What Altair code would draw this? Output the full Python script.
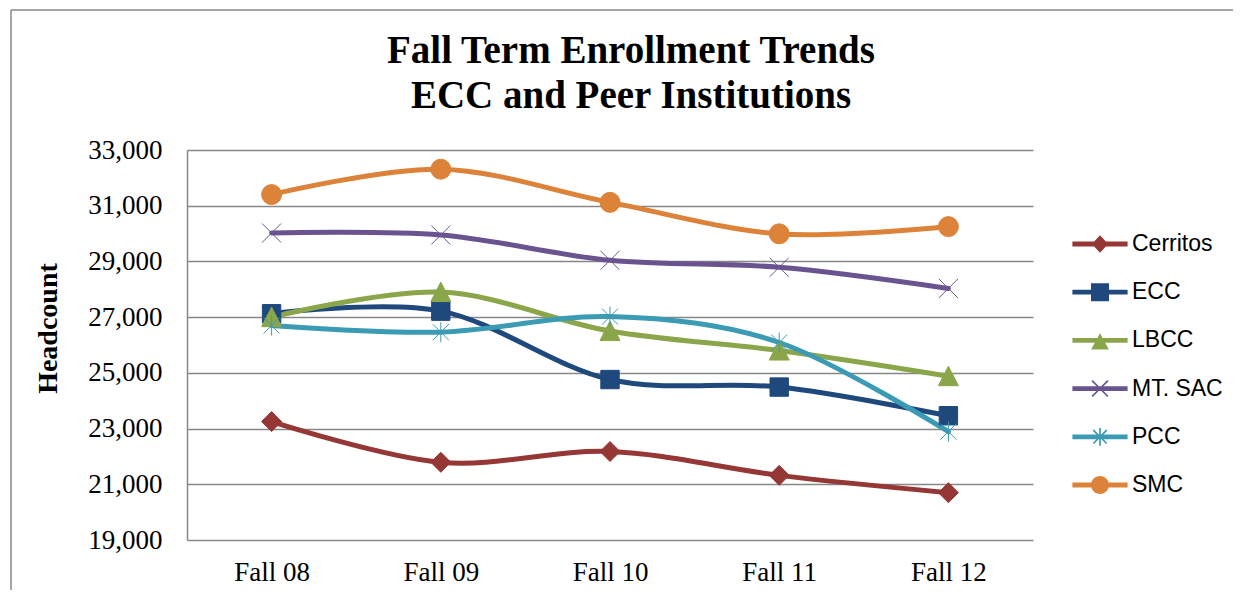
import math
import altair as alt
import pandas as pd

# ---------------- data ----------------
terms = ["Fall 08", "Fall 09", "Fall 10", "Fall 11", "Fall 12"]
colleges = ["Cerritos", "ECC", "LBCC", "MT. SAC", "PCC", "SMC"]
cerritos = [23250, 21790, 22175, 21320, 20700]
ecc = [27122, 27215, 24760, 24490, 23460]
lbcc = [27000, 27900, 26500, 25800, 24880]
mtsac = [30020, 29950, 29040, 28790, 28030]
pcc = [26700, 26460, 27020, 26090, 22890]
smc = [31400, 32310, 31120, 29990, 30250]
y_ticks = [19000, 21000, 23000, 25000, 27000, 29000, 31000, 33000]

colors = ["#953735", "#1F497D", "#8BA64A", "#6A5490", "#3C9BB4", "#DD8239"]

series = [cerritos, ecc, lbcc, mtsac, pcc, smc]
rows = []
for name, vals in zip(colleges, series):
    for t, v in zip(terms, vals):
        rows.append({"College": name, "Term": t, "Headcount": v})
df = pd.DataFrame(rows)

# ---------------- marker shapes ----------------
def f(v):
    return f"{v:.3f}".rstrip("0").rstrip(".") if abs(v) > 1e-9 else "0"

def poly(pts):
    area = sum(pts[i][0] * pts[(i + 1) % len(pts)][1] - pts[(i + 1) % len(pts)][0] * pts[i][1]
               for i in range(len(pts)))
    if area < 0:
        pts = list(reversed(pts))
    return "M" + "L".join(f"{f(x)},{f(y)}" for x, y in pts) + "Z"

def seg(x0, y0, x1, y1, t):
    dx, dy = x1 - x0, y1 - y0
    L = math.hypot(dx, dy)
    nx, ny = -dy / L * t, dx / L * t
    return poly([(x0 + nx, y0 + ny), (x1 + nx, y1 + ny), (x1 - nx, y1 - ny), (x0 - nx, y0 - ny)])

def circle(r):
    return f"M{f(-r)},0A{f(r)},{f(r)} 0 1 1 {f(r)},0A{f(r)},{f(r)} 0 1 1 {f(-r)},0Z"

# plot markers (unit = sqrt(size)/2)
plot_shapes = [
    "M0,-1L1,0L0,1L-1,0Z",
    "M-0.92,-0.92H0.92V0.92H-0.92Z",
    "M0,-1L1,0.95L-1,0.95Z",
    "M-0.95,-0.95L0.95,0.95M-0.95,0.95L0.95,-0.95",
    "M-0.8,-0.8L0.8,0.8M-0.8,0.8L0.8,-0.8M0,-1L0,1",
    "circle",
]
plot_stroke_w = [1, 1, 1, 2, 2, 1]

# legend symbols: line + marker, all filled
bar = poly([(-1.15, -0.1), (1.15, -0.1), (1.15, 0.1), (-1.15, 0.1)])
a = 0.33
t = 0.035
legend_shapes = [
    bar + poly([(0, -0.36), (0.34, 0), (0, 0.36), (-0.34, 0)]),
    bar + poly([(-0.375, -0.375), (0.375, -0.375), (0.375, 0.375), (-0.375, 0.375)]),
    bar + poly([(0, -0.3), (0.37, 0.38), (-0.37, 0.38)]),
    bar + seg(-a, -a, a, a, t) + seg(-a, a, a, -a, t),
    bar + seg(-0.28, -0.28, 0.28, 0.28, t) + seg(-0.28, 0.28, 0.28, -0.28, t) + seg(0, -0.37, 0, 0.37, t),
    bar + circle(0.375),
]

GRID = "#878787"
SERIF = "Liberation Serif"

x_enc = alt.X("Term:N", sort=terms, scale=alt.Scale(domain=terms),
              axis=alt.Axis(title=None, labelAngle=0, domain=False, ticks=False, grid=False,
                            labelFont=SERIF, labelFontSize=27, labelColor="black",
                            labelPadding=19))
y_enc = alt.Y("Headcount:Q",
              scale=alt.Scale(domain=[19000, 33000], nice=False, zero=False),
              axis=alt.Axis(values=y_ticks, format=",.0f", title="Headcount",
                            labelFont=SERIF, labelFontSize=27, labelColor="black",
                            labelPadding=25, ticks=False, tickSize=0,
                            domain=True, domainColor=GRID, domainWidth=1.5,
                            grid=True, gridColor=GRID, gridWidth=1.5,
                            titleFont=SERIF, titleFontSize=28, titleFontWeight="bold",
                            titleColor="black", titleX=-131, titleY=178,
                            titleBaseline="alphabetic", titleAlign="center", titleAngle=270))

stroke_scale = alt.Scale(domain=colleges, range=colors)

lines = alt.Chart(df).mark_line(interpolate="cardinal", strokeWidth=5, strokeCap="round").encode(
    x=x_enc, y=y_enc,
    stroke=alt.Stroke("College:N", scale=stroke_scale, legend=None),
)

points = alt.Chart(df).mark_point(filled=True, opacity=1, size=400).encode(
    x=x_enc, y=y_enc,
    fill=alt.Fill("College:N", scale=stroke_scale, legend=None),
    stroke=alt.Stroke("College:N", scale=stroke_scale, legend=None),
    shape=alt.Shape("College:N", scale=alt.Scale(domain=colleges, range=plot_shapes), legend=None),
    strokeWidth=alt.StrokeWidth("College:N", scale=alt.Scale(domain=colleges, range=plot_stroke_w), legend=None),
)

leg = dict(title=None, orient="none", legendX=889, legendY=70)
legend_layer = alt.Chart(df).transform_filter("false").mark_point(filled=True, opacity=1).encode(
    color=alt.Color("College:N", scale=alt.Scale(domain=colleges, range=colors), legend=alt.Legend(**leg)),
    shape=alt.Shape("College:N", scale=alt.Scale(domain=colleges, range=legend_shapes), legend=alt.Legend(**leg)),
)

frame_df = pd.DataFrame({"k": [0]})
frame_left = alt.Chart(frame_df).mark_rule(color=GRID, strokeWidth=1.5).encode(
    x=alt.value(-176), y=alt.value(-140), y2=alt.value(450))
frame_top = alt.Chart(frame_df).mark_rule(color=GRID, strokeWidth=1.5).encode(
    x=alt.value(-176), x2=alt.value(1050), y=alt.value(-140))

chart = alt.layer(lines, points, legend_layer, frame_left, frame_top).resolve_scale(
    shape="independent", color="independent"
).properties(
    width=846, height=390,
    title=alt.TitleParams(["Fall Term Enrollment Trends", "ECC and Peer Institutions"],
                          font=SERIF, fontSize=39, fontWeight="bold", color="black",
                          anchor="middle", frame="group", dx=21, offset=-107, lineHeight=45),
    autosize=alt.AutoSizeParams(type="none"),
    padding={"left": 179, "top": 142, "right": 200, "bottom": 50},
).configure_view(stroke=None).configure_legend(
    symbolSize=2304, symbolStrokeWidth=0, labelFont="Liberation Sans", labelFontSize=23,
    labelColor="black", labelOffset=8, rowPadding=12.2, padding=0, symbolOpacity=1,
)

chart.save("out.html", embed_options={"renderer": "svg", "actions": False})
